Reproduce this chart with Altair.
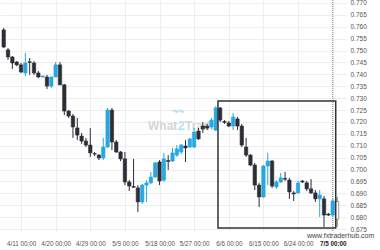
import altair as alt
import pandas as pd

# candle index (0 = 4/11 00:00), one entry per daily candle
idx = list(range(-4, 74))
opens = [0.7587, 0.7503, 0.7473, 0.7452, 0.7440, 0.7406, 0.7453, 0.7448, 0.7406, 0.7389,
         0.7389, 0.7351, 0.7389, 0.7440, 0.7356, 0.7246, 0.7225, 0.7175, 0.7141, 0.7120,
         0.7103, 0.7067, 0.7061, 0.7049, 0.7095, 0.7250, 0.7116, 0.7074, 0.7045, 0.6948,
         0.6929, 0.6923, 0.6864, 0.6935, 0.6944, 0.6969, 0.7032, 0.6956, 0.7038, 0.7036,
         0.7061, 0.7074, 0.7099, 0.7095, 0.7095, 0.7162, 0.7183, 0.7183, 0.7179, 0.7166,
         0.7259, 0.7202, 0.7196, 0.7183, 0.7213, 0.7183, 0.7095, 0.7061, 0.7019, 0.6935,
         0.6885, 0.7015, 0.7036, 0.6927, 0.6948, 0.6963, 0.6956, 0.6902, 0.6902, 0.6952,
         0.6944, 0.6919, 0.6902, 0.6877, 0.6877, 0.6813, 0.6809, 0.6866]
highs = [0.7595, 0.7511, 0.7477, 0.7456, 0.7448, 0.7490, 0.7469, 0.7456, 0.7414, 0.7395,
         0.7398, 0.7391, 0.7452, 0.7452, 0.7360, 0.7250, 0.7234, 0.7217, 0.7154, 0.7133,
         0.7175, 0.7074, 0.7065, 0.7133, 0.7259, 0.7259, 0.7124, 0.7078, 0.7074, 0.6956,
         0.7045, 0.6935, 0.6940, 0.6956, 0.6990, 0.7032, 0.7040, 0.7070, 0.7061, 0.7091,
         0.7103, 0.7108, 0.7124, 0.7133, 0.7175, 0.7175, 0.7200, 0.7192, 0.7217, 0.7267,
         0.7263, 0.7208, 0.7204, 0.7238, 0.7221, 0.7192, 0.7133, 0.7065, 0.7028, 0.6944,
         0.7019, 0.7070, 0.7040, 0.6956, 0.6986, 0.6990, 0.6965, 0.6910, 0.6952, 0.6956,
         0.6952, 0.6960, 0.6914, 0.6914, 0.6889, 0.6818, 0.6877, 0.6885]
lows = [0.7511, 0.7461, 0.7423, 0.7435, 0.7406, 0.7393, 0.7398, 0.7398, 0.7385, 0.7387,
        0.7339, 0.7343, 0.7389, 0.7355, 0.7229, 0.7217, 0.7133, 0.7124, 0.7108, 0.7095,
        0.7053, 0.7057, 0.7040, 0.7040, 0.7091, 0.7082, 0.7070, 0.7036, 0.6935, 0.6910,
        0.6923, 0.6822, 0.6856, 0.6864, 0.6940, 0.6965, 0.6935, 0.6948, 0.6998, 0.7032,
        0.7053, 0.7065, 0.7032, 0.7091, 0.7091, 0.7124, 0.7154, 0.7166, 0.7171, 0.7162,
        0.7200, 0.7192, 0.7179, 0.7166, 0.7166, 0.7095, 0.7053, 0.7015, 0.6914, 0.6843,
        0.6881, 0.6935, 0.6923, 0.6919, 0.6944, 0.6952, 0.6877, 0.6868, 0.6898, 0.6944,
        0.6910, 0.6898, 0.6864, 0.6801, 0.6759, 0.6805, 0.6801, 0.6759]
closes = [0.7515, 0.7473, 0.7448, 0.7440, 0.7410, 0.7448, 0.7450, 0.7406, 0.7389, 0.7393,
          0.7351, 0.7389, 0.7440, 0.7356, 0.7246, 0.7225, 0.7179, 0.7145, 0.7120, 0.7103,
          0.7070, 0.7065, 0.7049, 0.7095, 0.7250, 0.7116, 0.7074, 0.7045, 0.6948, 0.6931,
          0.6926, 0.6864, 0.6935, 0.6944, 0.6969, 0.7028, 0.6952, 0.7045, 0.7034, 0.7070,
          0.7087, 0.7103, 0.7091, 0.7129, 0.7158, 0.7129, 0.7171, 0.7175, 0.7208, 0.7259,
          0.7208, 0.7198, 0.7183, 0.7221, 0.7183, 0.7103, 0.7061, 0.7019, 0.6935, 0.6885,
          0.7015, 0.7036, 0.6931, 0.6948, 0.6965, 0.6960, 0.6906, 0.6898, 0.6944, 0.6948,
          0.6919, 0.6902, 0.6877, 0.6893, 0.6809, 0.6809, 0.6868, 0.6792]
live_idx = 73          # forming candle (hollow)
now_idx = 72           # dotted marker line

tick_idx = [0, 8, 16, 24, 32, 40, 48, 56, 64, 72]
tick_labels = ["4/11 00:00", "4/20 00:00", "4/29 00:00", "5/9 00:00", "5/18 00:00",
               "5/27 00:00", "6/6 00:00", "6/15 00:00", "6/24 00:00", "7/5 00:00"]
price_ticks = [0.675, 0.680, 0.685, 0.690, 0.695, 0.700, 0.705, 0.710, 0.715, 0.720,
               0.725, 0.730, 0.735, 0.740, 0.745, 0.750, 0.755, 0.760, 0.765, 0.770]

# pattern box
box_start = [45.5]
box_end = [72.7]
box_top = [0.7288]
box_bottom = [0.6755]

df = pd.DataFrame({"i": idx, "o": opens, "h": highs, "l": lows, "c": closes})
df["kind"] = ["live" if i == live_idx else ("up" if c > o else "down")
              for i, o, c in zip(idx, opens, closes)]

box_df = pd.DataFrame({"x": box_start, "x2": box_end, "y": box_top, "y2": box_bottom})
now_df = pd.DataFrame({"i": [now_idx]})
one = pd.DataFrame({"d": [0]})

FONT = "Liberation Sans"
x_dom = [-3.7, 74.15]
y_dom = [0.67378, 0.77126]

label_arr = "[" + ",".join("'" + s + "'" for s in tick_labels) + "]"
x_axis = alt.Axis(values=tick_idx, labelExpr=label_arr + "[round(datum.value/8)]",
                  title=None, ticks=False, domain=False, labelPadding=8,
                  labelFontSize=6.3, labelFont=FONT,
                  labelColor={"condition": {"test": "datum.value == 72", "value": "#222"}, "value": "#555"},
                  labelFontWeight={"condition": {"test": "datum.value == 72", "value": "bold"}, "value": "normal"},
                  gridColor="#eeeeee", gridWidth=1, labelFlush=False, labelOverlap=False)
y_axis = alt.Axis(values=price_ticks, format=".3f", orient="right", title=None,
                  ticks=False, domain=False, labelPadding=3, labelFontSize=6.5,
                  labelFont=FONT, labelColor="#555", gridColor="#eeeeee", gridWidth=1,
                  labelOverlap=False, labelFlush=False)
xs = alt.Scale(domain=x_dom, nice=False, zero=False)
ys = alt.Scale(domain=y_dom, nice=False, zero=False)

kinds = ["up", "down", "live"]
fill_scale = alt.Scale(domain=kinds, range=["#27a7e3", "#2d2d36", "#ffffff"])
stroke_scale = alt.Scale(domain=kinds, range=["#27a7e3", "#2d2d36", "#555555"])

base = alt.Chart(df)

wicks = base.mark_rule(strokeWidth=1, clip=True).encode(
    x=alt.X("i:Q", scale=xs, axis=x_axis),
    y=alt.Y("h:Q", scale=ys, axis=y_axis),
    y2="l:Q",
    stroke=alt.Stroke("kind:N", scale=stroke_scale, legend=None),
)
bodies = base.mark_bar(size=3.4, clip=True, strokeWidth=0.6).encode(
    x=alt.X("i:Q", scale=xs, axis=x_axis),
    y=alt.Y("o:Q", scale=ys, axis=y_axis),
    y2="c:Q",
    fill=alt.Fill("kind:N", scale=fill_scale, legend=None),
    stroke=alt.Stroke("kind:N", scale=stroke_scale, legend=None),
)

box = alt.Chart(box_df).mark_rect(filled=False, stroke="#333333", strokeWidth=1.5, clip=True).encode(
    x=alt.X("x:Q", scale=xs, axis=x_axis),
    x2="x2:Q",
    y=alt.Y("y:Q", scale=ys, axis=y_axis),
    y2="y2:Q",
)
now_line = alt.Chart(now_df).mark_rule(stroke="#888888", strokeWidth=1, strokeDash=[1, 1]).encode(
    x=alt.X("i:Q", scale=xs, axis=x_axis),
)

wm1 = alt.Chart(one).mark_text(text="What", font=FONT, fontSize=12, fontWeight="bold",
                               color="#d6d6d6", align="left", baseline="middle").encode(
    x=alt.value(148), y=alt.value(126))
wm2 = alt.Chart(one).mark_text(text="2", font=FONT, fontSize=12, fontWeight="bold",
                               color="#b9e1f5", align="left", baseline="middle").encode(
    x=alt.value(178), y=alt.value(126))
wm3 = alt.Chart(one).mark_text(text="Trade", font=FONT, fontSize=12, fontWeight="bold",
                               color="#d6d6d6", align="left", baseline="middle").encode(
    x=alt.value(185), y=alt.value(126))
wm_icon = alt.Chart(one).mark_text(text="〰", font="DejaVu Sans", fontSize=12,
                                   color="#b9e1f5", align="center", baseline="middle").encode(
    x=alt.value(178), y=alt.value(111))
site = alt.Chart(one).mark_text(text="www.fxtraderhub.com", font=FONT, fontSize=7,
                                color="#444444", align="left", baseline="middle").encode(
    x=alt.value(307), y=alt.value(236))

chart = alt.layer(wm_icon, wm1, wm2, wm3, now_line, wicks, bodies, box, site).properties(
    width=347, height=232,
    padding={"left": 0, "top": 0, "right": 33, "bottom": 18},
    autosize=alt.AutoSizeParams(type="none"),
    background="#ffffff",
).configure_view(strokeWidth=0)

chart.save("out.html", embed_options={"renderer": "svg", "actions": False})
